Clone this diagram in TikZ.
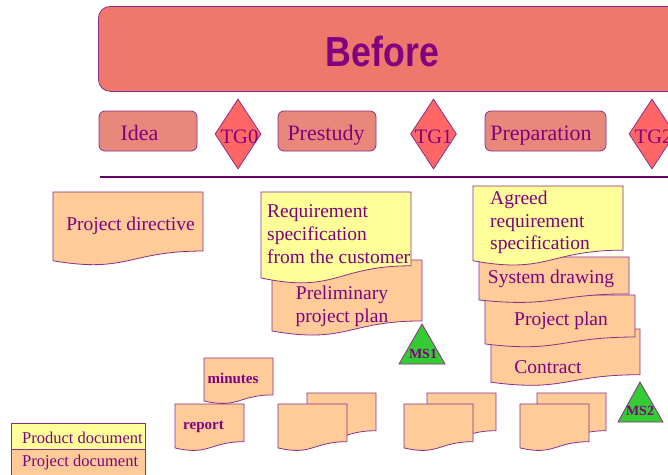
\documentclass[tikz,border=0pt]{standalone}
\usepackage{fontspec}
\setmainfont{Liberation Serif}
\newfontfamily\headfont{Liberation Sans}
\usetikzlibrary{shapes.geometric}
\definecolor{txt}{HTML}{800080}
\definecolor{edge}{HTML}{8A2E8A}
\definecolor{headfill}{HTML}{EE786C}
\definecolor{phasefill}{HTML}{E8887A}
\definecolor{gatefill}{HTML}{FF6666}
\definecolor{projfill}{HTML}{FFCC99}
\definecolor{prodfill}{HTML}{FFFF99}
\definecolor{msfill}{HTML}{33CC33}
\definecolor{rulecol}{HTML}{660066}
% document shape: x y w h fill
\newcommand\docshape[5]{%
  \pgfmathsetmacro\dxr{#1+#3}\pgfmathsetmacro\dxm{#1+0.5*#3}%
  \pgfmathsetmacro\dyr{#2+0.802*#4}\pgfmathsetmacro\dyc{#2+1.1075*#4}%
  \pgfmathsetmacro\dyl{#2+0.934*#4}%
  \filldraw[docline,fill=#5] (#1,#2) -- (\dxr,#2) -- (\dxr,\dyr)
    .. controls (\dxm,\dyr) and (\dxm,\dyc) .. (#1,\dyl) -- cycle;}
\begin{document}
\begin{tikzpicture}[x=1pt,y=-1pt,
  docline/.style={draw=edge,line width=0.8pt},
  phase/.style={draw=edge,fill=phasefill,rounded corners=6pt,minimum width=98pt,
    minimum height=40pt,inner sep=0pt,line width=0.8pt},
  gate/.style={diamond,draw=edge,fill=gatefill,minimum width=46pt,minimum height=70pt,
    inner sep=0pt,line width=0.8pt},
  lbl/.style={text=txt,inner sep=0pt,anchor=base,font=\fontsize{19.5}{23}\selectfont},
  lblw/.style={lbl,anchor=base west},
  phlbl/.style={lbl,font=\fontsize{22}{26}\selectfont},
  gtlbl/.style={lbl,font=\fontsize{20.5}{24}\selectfont},
  smlbl/.style={lbl,font=\fontsize{15}{18}\selectfont\bfseries},
  mslbl/.style={lbl,font=\fontsize{14}{16}\selectfont\bfseries},
  legtxt/.style={lblw,font=\fontsize{16.5}{19}\selectfont},
  ms/.style={draw=edge,fill=msfill,line width=0.8pt}]
\useasboundingbox (0,0) rectangle (668,474);
\fill[white] (0,0) rectangle (668,474);

% header
\node[draw=edge,fill=headfill,rounded corners=12pt,line width=0.8pt,anchor=north west,
  minimum width=640pt,minimum height=85pt,inner sep=0pt] (head) at (98,6) {};
\node[lbl,font=\headfont\bfseries\fontsize{42}{48}\selectfont] (before) at (382.5,66.5)
  {\scalebox{0.85}[1]{Before}};

% phases and gates
\node[phase] (idea) at (148,131) {};
\node[phlbl] (ideat) at (139.5,140.5) {Idea};
\node[gate] (tg0) at (238,134) {};
\node[gtlbl] (tg0t) at (239.5,143) {TG0};
\node[phase] (pre) at (327,131) {};
\node[phlbl] (pret) at (326,140.5) {Prestudy};
\node[gate] (tg1) at (433.5,134) {};
\node[gtlbl] (tg1t) at (433.7,143) {TG1};
\node[phase,minimum width=121pt] (prep) at (545.5,131) {};
\node[phlbl] (prept) at (541,140.5) {Preparation};
\node[gate] (tg2) at (652,134) {};
\node[gtlbl] (tg2t) at (653.5,143) {TG2};

% rule line
\coordinate (ruleL) at (100,177);
\coordinate (ruleR) at (672,177);
\draw[rulecol,line width=2.4pt] (ruleL) -- (ruleR);

% column 1
\docshape{53}{192}{150}{73.6}{projfill}
\node[lbl] (pdir) at (130.5,230) {Project directive};

% column 2
\docshape{272}{260}{150}{76}{projfill}
\node[lbl] (pp1) at (342,299.5) {Preliminary};
\node[lbl] (pp2) at (342,322.5) {project plan};
\docshape{261}{192}{150}{92}{prodfill}
\node[lblw] (rs1) at (267,217) {Requirement};
\node[lblw] (rs2) at (267,240) {specification};
\node[lblw] (rs3) at (267,263) {from the customer};
\coordinate (ms1a) at (422,324);
\coordinate (ms1b) at (445,364);
\coordinate (ms1c) at (399,364);
\filldraw[ms] (ms1a) -- (ms1b) -- (ms1c) -- cycle;
\node[mslbl] (ms1) at (423,358) {MS1};

% column 3
\docshape{491}{329}{149}{57}{projfill}
\node[lbl] (con) at (548,373) {Contract};
\docshape{485}{295}{150}{52.4}{projfill}
\node[lbl] (ppl) at (561,325) {Project plan};
\docshape{479}{257}{150}{46}{projfill}
\node[lbl] (sys) at (551,283) {System drawing};
\docshape{473}{186}{150}{80}{prodfill}
\node[lblw] (ar1) at (490,204.5) {Agreed};
\node[lblw] (ar2) at (490,227) {requirement};
\node[lblw] (ar3) at (490,249.5) {specification};
\coordinate (ms2a) at (640,382);
\coordinate (ms2b) at (663,422);
\coordinate (ms2c) at (618,422);
\filldraw[ms] (ms2a) -- (ms2b) -- (ms2c) -- cycle;
\node[mslbl] (ms2) at (640,415.5) {MS2};

% bottom documents
\docshape{204}{358}{69}{46}{projfill}
\node[smlbl] (min) at (233,383) {minutes};
\docshape{175}{404}{69}{47}{projfill}
\node[smlbl] (rep) at (203.5,429) {report};
\docshape{307}{393}{69}{47}{projfill}
\docshape{278}{404}{69}{47}{projfill}
\docshape{427}{393}{69}{47}{projfill}
\docshape{404}{404}{69}{47}{projfill}
\docshape{537}{393}{69}{47}{projfill}
\docshape{520}{404}{69}{47}{projfill}

% legend
\node[draw=edge,fill=prodfill,line width=0.8pt,anchor=north west,minimum width=134pt,
  minimum height=26pt,inner sep=0pt] (legprod) at (11,423) {};
\node[draw=edge,fill=projfill,line width=0.8pt,anchor=north west,minimum width=134pt,
  minimum height=30pt,inner sep=0pt] (legproj) at (11,449) {};
\node[legtxt] (legprodt) at (22,443) {Product document};
\node[legtxt] (legprojt) at (22,466) {Project document};
\end{tikzpicture}
\end{document}
